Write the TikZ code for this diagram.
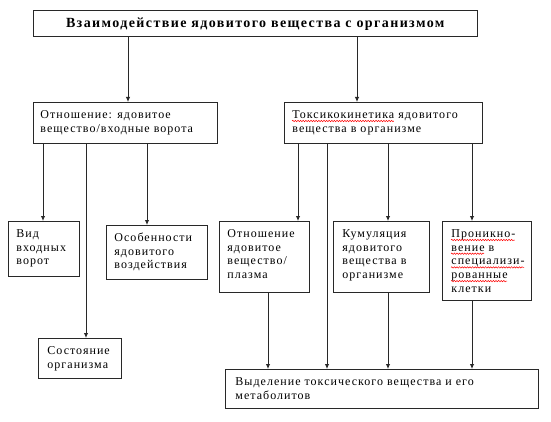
\documentclass[tikz,border=0pt]{standalone}
\usepackage{fontspec}
\setmainfont{Liberation Serif}[LetterSpace=8.5]
\usetikzlibrary{arrows.meta,decorations.pathmorphing}
\definecolor{linec}{RGB}{40,40,40}
\newcommand\bt[3]{\parbox[c][#2][t]{#1}{\fontsize{12}{13.7}\selectfont\raggedright\vspace*{6.5pt}\strut #3}}
\newlength\wA \newlength\wB \newlength\wC \newlength\wD \newlength\wE
\tikzset{
  box/.style={draw=linec, line width=0.9pt, anchor=north west, inner xsep=0pt, inner ysep=0pt, align=left},
  arr/.style={draw=linec, line width=0.9pt, -{Latex[length=5pt,width=4.5pt]}},
  squig/.style={draw=red, line width=0.5pt, decorate, decoration={snake, amplitude=0.7pt, segment length=2.6pt}}
}
\begin{document}
\settowidth{\wA}{\fontsize{12}{13.7}\selectfont Токсикокинетика}%
\settowidth{\wB}{\fontsize{12}{13.7}\selectfont Проникно-}%
\settowidth{\wC}{\fontsize{12}{13.7}\selectfont вение}%
\settowidth{\wD}{\fontsize{12}{13.7}\selectfont специализи-}%
\settowidth{\wE}{\fontsize{12}{13.7}\selectfont рованные}%
\begin{tikzpicture}[x=1pt,y=-1pt]
\fill[white] (0,0) rectangle (551,422);
\useasboundingbox (0,0) rectangle (551,422);
% boxes
\node[box, minimum width=444.4pt, minimum height=25.5pt, anchor=north west, align=center] (title) at (32.6,10.5)
  {\fontsize{14}{16}\selectfont\addfontfeatures{LetterSpace=10}\bfseries Взаимодействие ядовитого вещества с организмом};
\node[box] (L1) at (33,102) {\hspace*{7pt}\bt{177pt}{41pt}{Отношение: ядовитое\\вещество/входные ворота}};
\node[box] (R1) at (284,102) {\hspace*{8pt}\bt{190pt}{41pt}{Токсикокинетика ядовитого\\вещества в организме}};
\node[box] (vid) at (8,221) {\hspace*{8pt}\bt{63pt}{55pt}{Вид\\входных\\ворот}};
\node[box] (osob) at (106,225) {\hspace*{8pt}\bt{93pt}{54pt}{Особенности\\ядовитого\\воздействия}};
\node[box] (sost) at (38,338) {\hspace*{9pt}\bt{74pt}{40pt}{Состояние\\организма}};
\node[box] (plas) at (219,221) {\hspace*{8pt}\bt{82pt}{71pt}{Отношение\\ядовитое\\вещество/\\плазма}};
\node[box] (kum) at (333,221) {\hspace*{9pt}\bt{87pt}{71pt}{Кумуляция\\ядовитого\\вещества в\\организме}};
\node[box] (pron) at (442,221) {\hspace*{9pt}\bt{80pt}{79pt}{Проникно-\\вение в\\специализи-\\рованные\\клетки}};
\node[box] (vyd) at (225,369) {\hspace*{10pt}\bt{303pt}{39pt}{Выделение токсического вещества и его\\метаболитов}};
% spelling squiggles
\draw[squig] ([shift={(8,19)}]R1.north west) -- ++(\the\wA,0pt);
\draw[squig] ([shift={(9,19)}]pron.north west) -- ++(\the\wB,0pt);
\draw[squig] ([shift={(9,32.7)}]pron.north west) -- ++(\the\wC,0pt);
\draw[squig] ([shift={(9,46.4)}]pron.north west) -- ++(\the\wD,0pt);
\draw[squig] ([shift={(9,60.1)}]pron.north west) -- ++(\the\wE,0pt);
% x positions
\coordinate (c1) at (128,0);
\coordinate (c2) at (357,0);
\coordinate (c3) at (43,0);
\coordinate (c4) at (86,0);
\coordinate (c5) at (147,0);
\coordinate (c6) at (298,0);
\coordinate (c7) at (327,0);
\coordinate (c8) at (388,0);
\coordinate (c9) at (472,0);
\coordinate (c10) at (268,0);
% connectors
\draw[arr] (title.south -| c1) -- (L1.north -| c1);
\draw[arr] (title.south -| c2) -- (R1.north -| c2);
\draw[arr] (L1.south -| c3) -- (vid.north -| c3);
\draw[arr] (L1.south -| c4) -- (sost.north -| c4);
\draw[arr] (L1.south -| c5) -- (osob.north -| c5);
\draw[arr] (R1.south -| c6) -- (plas.north -| c6);
\draw[arr] (R1.south -| c7) -- (vyd.north -| c7);
\draw[arr] (R1.south -| c8) -- (kum.north -| c8);
\draw[arr] (R1.south -| c9) -- (pron.north -| c9);
\draw[arr] (plas.south -| c10) -- (vyd.north -| c10);
\draw[arr] (kum.south -| c8) -- (vyd.north -| c8);
\draw[arr] (pron.south -| c9) -- (vyd.north -| c9);
\end{tikzpicture}
\end{document}
